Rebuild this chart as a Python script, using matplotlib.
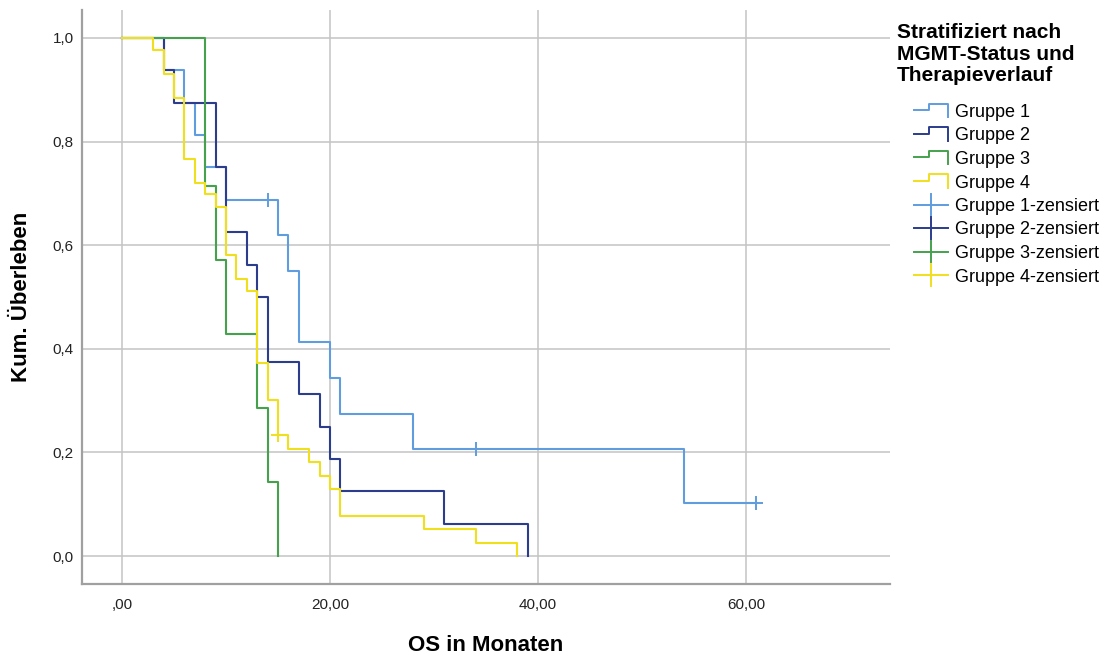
import matplotlib
matplotlib.use('Agg')
import matplotlib.pyplot as plt
from matplotlib.lines import Line2D
from matplotlib.legend_handler import HandlerBase

plt.rcParams['font.family'] = ['Liberation Sans', 'DejaVu Sans']

# Kaplan-Meier Schritte (Monate, kum. Ueberleben)
g1_t = [0, 4, 6, 7, 8, 10, 15, 16, 17, 20, 21, 28, 54, 61]
g1_s = [1.0, .9375, .875, .8125, .75, .6875, .6188, .55, .4125, .3438, .275, .2063, .1031, .1031]
g2_t = [0, 4, 5, 9, 10, 12, 13, 14, 17, 19, 20, 21, 31, 39]
g2_s = [1.0, .9375, .875, .75, .625, .5625, .5, .375, .3125, .25, .1875, .125, .0625, 0.0]
g3_t = [0, 8, 9, 10, 13, 14, 15]
g3_s = [1.0, .7143, .5714, .4286, .2857, .1429, 0.0]
g4_t = [0, 3, 4, 5, 6, 7, 8, 9, 10, 11, 12, 13, 14, 15, 16, 18, 19, 20, 21, 29, 34, 38]
g4_s = [1.0, .977, .930, .884, .767, .721, .698, .674, .581, .535, .512, .372,
        .302, .233, .207, .181, .155, .130, .078, .052, .026, 0.0]

# zensierte Faelle
g1_cens_t = [14, 34, 61]
g1_cens_s = [.6875, .2063, .1031]
g4_cens_t = [15]
g4_cens_s = [.233]

labels = ['Gruppe 1', 'Gruppe 2', 'Gruppe 3', 'Gruppe 4']
colors = ['#5f9ddf', '#2b3d8c', '#45a14c', '#f0df1c']


class StepHandler(HandlerBase):
    def create_artists(self, legend, orig_handle, xdescent, ydescent,
                       width, height, fontsize, trans):
        x0 = -xdescent
        y0 = -ydescent
        xs = [x0, x0 + 0.45 * width, x0 + 0.45 * width, x0 + width, x0 + width]
        ys = [y0 + 0.55 * height, y0 + 0.55 * height, y0 + 1.05 * height,
              y0 + 1.05 * height, y0 + 0.0 * height]
        ln = Line2D(xs, ys, color=orig_handle.get_color(), lw=1.4, transform=trans)
        return [ln]


class CensHandler(HandlerBase):
    def create_artists(self, legend, orig_handle, xdescent, ydescent,
                       width, height, fontsize, trans):
        x0 = -xdescent
        y0 = -ydescent
        c = orig_handle.get_color()
        h = Line2D([x0, x0 + width], [y0 + 0.5 * height] * 2, color=c, lw=1.4, transform=trans)
        v = Line2D([x0 + 0.5 * width] * 2, [y0 - 0.35 * height, y0 + 1.35 * height],
                   color=c, lw=1.4, transform=trans)
        return [h, v]


fig = plt.figure(figsize=(11.03, 6.54), dpi=100)
ax = fig.add_axes([82 / 1103, 70 / 654, 808 / 1103, 574 / 654])

series = [(g1_t, g1_s), (g2_t, g2_s), (g3_t, g3_s), (g4_t, g4_s)]
for (t, s), c, lab in zip(series, colors, labels):
    ax.step(t, s, where='post', color=c, lw=1.5, label=lab)

ax.plot(g1_cens_t, g1_cens_s, ls='none', marker='+', ms=10, mew=1.4, color=colors[0])
ax.plot(g4_cens_t, g4_cens_s, ls='none', marker='+', ms=10, mew=1.4, color=colors[3])

ax.set_xlim(-3.85, 73.85)
ax.set_ylim(-0.054, 1.054)
ax.set_xticks([0, 20, 40, 60])
ax.set_xticklabels([',00', '20,00', '40,00', '60,00'])
ax.set_yticks([0, .2, .4, .6, .8, 1.0])
ax.set_yticklabels(['0,0', '0,2', '0,4', '0,6', '0,8', '1,0'])
ax.tick_params(length=0, labelsize=11, colors='#222222')
ax.tick_params(axis='x', pad=10)
ax.tick_params(axis='y', pad=6)
ax.grid(True, color='#c4c4c4', lw=1.1)
ax.set_axisbelow(True)
for sp in ['top', 'right']:
    ax.spines[sp].set_visible(False)
for sp in ['left', 'bottom']:
    ax.spines[sp].set_color('#a0a0a0')
    ax.spines[sp].set_linewidth(1.6)

fig.text(486 / 1103, 1 - 651 / 654, 'OS in Monaten', ha='center', va='baseline',
         fontsize=16, fontweight='bold')
fig.text(22 / 1103, 1 - 297 / 654, 'Kum. Überleben', rotation=90, ha='center',
         va='center', fontsize=16, fontweight='bold')

# Legende
fig.text(897 / 1103, 1 - 23 / 654, 'Stratifiziert nach\nMGMT-Status und\nTherapieverlauf',
         ha='left', va='top', fontsize=15, fontweight='bold', linespacing=1.17)

step_handles = [Line2D([], [], color=c) for c in colors]
cens_handles = [Line2D([], [], color=c) for c in colors]
hmap = {h: StepHandler() for h in step_handles}
hmap.update({h: CensHandler() for h in cens_handles})
leg = fig.legend(step_handles + cens_handles,
                 labels + [l + '-zensiert' for l in labels],
                 handler_map=hmap, loc='upper left',
                 bbox_to_anchor=(914 / 1103, 1 - 104 / 654),
                 frameon=False, fontsize=13, borderpad=0, borderaxespad=0,
                 handlelength=1.9, handletextpad=0.35, labelspacing=0.36)

fig.savefig('out.png', dpi=100)
